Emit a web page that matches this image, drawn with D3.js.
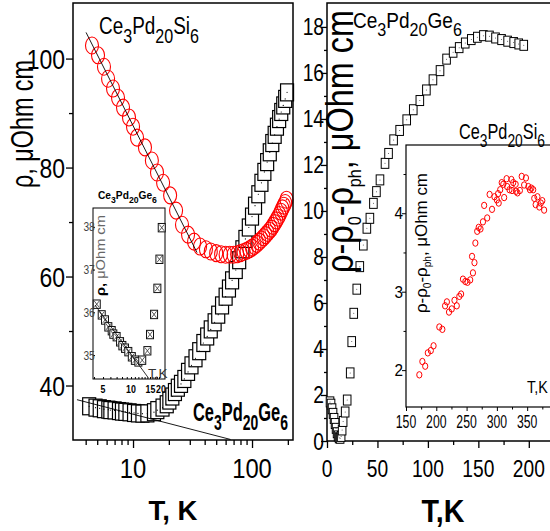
<!DOCTYPE html>
<html>
<head>
<meta charset="utf-8">
<script src="https://cdnjs.cloudflare.com/ajax/libs/d3/7.8.5/d3.min.js"></script>
<style>
  body { margin: 0; background: #fff; }
  svg { display: block; }
  text { font-family: "Liberation Sans", Arial, sans-serif; }
</style>
</head>
<body>
<script>
// Ce3Pd20Si6: rho(T), left panel (circles)
const siT = [4.52, 5.08, 5.7, 6.17, 6.79, 7.48, 8.24, 9.25, 10.0, 10.8, 12.6, 14.4, 15.9, 17.9, 20.5, 23, 25.8, 29, 32.6, 36.6, 41, 45, 50, 55,
  60, 65, 70, 75, 80, 85, 90, 95, 100, 105, 110, 115, 120, 125, 130, 135, 140, 145, 150, 155, 160, 165, 170, 175, 180, 185, 190, 195];
const siRho = [102.4, 100.6, 98.5, 96.3, 94.5, 92.8, 91.0, 89.2, 87.5, 85.5, 83.7, 81.3, 79.1, 77.2, 74.9, 72.1, 69.5, 67.7, 66.4, 65.5, 65.0, 64.6, 64.3, 64.1,
  64.0, 64.0, 64.0, 64.1, 64.3, 64.5, 64.7, 65.0, 65.3, 65.6, 66.0, 66.4, 66.8, 67.2, 67.6, 68.0, 68.4, 68.8, 69.3, 69.8, 70.3, 70.8, 71.3, 71.9, 72.5, 73.0, 73.5, 74.1];

// Ce3Pd20Ge6: rho(T), left panel (squares) and its inset
const geT = [4.28, 4.84, 5.25, 5.7, 6.2, 6.45, 7.0, 7.62, 8.07, 8.62, 9.35, 10.2, 11.0, 12.0, 13.2, 15.0, 16.0, 17.7, 19.2, 20.2, 21.4,
  22.5, 23.8, 25.3, 27, 29, 31, 33.5, 36, 39, 42, 45, 48.5, 52, 56, 60, 64, 68, 73, 78, 83, 88, 94, 100, 106, 113, 120, 127, 134, 141, 148, 155, 162, 169, 176, 183, 190, 197];
const geRho = [36.19, 35.94, 35.82, 35.66, 35.57, 35.49, 35.43, 35.31, 35.22, 35.16, 35.08, 34.96, 34.88, 34.84, 34.88, 35.10, 35.48, 35.95, 36.56, 37.24, 37.98,
  38.8, 39.6, 40.3, 41.2, 42.5, 43.7, 45.0, 46.3, 47.8, 49.0, 50.3, 51.6, 53.0, 54.7, 56.3, 57.8, 59.3, 61.2, 63.0, 65.0, 66.9, 69.0, 71.0, 73.0, 75.1, 77.2, 79.2, 81.0, 82.8, 84.5, 86.0, 87.5, 88.9, 90.2, 91.4, 92.6, 93.8];

// straight lines (-ln T) drawn in the left panel and inset: [T start, T end], [rho start, rho end]
const siFitT = [4.03, 34.5], siFitRho = [104.8, 64.4];
const geFitT = [3.38, 66], geFitRho = [37.4, 30.1];
const geInsetFitT = [4.1, 15.2], geInsetFitRho = [36.17, 34.48];

// Ce3Pd20Ge6: rho - rho0 - rho_ph, right panel
const geMagT = [3, 4, 5, 6, 7, 8, 9, 10, 11, 12, 13, 14, 15, 16, 18, 20, 23, 24.5, 26.5, 29.5, 32.5, 36, 39.5, 42.5,
  46, 49, 52.5, 57.5, 61, 66, 72, 79, 85.5, 92, 98.5, 105, 112, 118.5, 125, 131, 137, 143, 149, 155, 161, 167, 173, 179, 185, 190, 195];
const geMagV = [1.7, 1.6, 1.4, 1.2, 0.98, 0.76, 0.55, 0.36, 0.22, 0.14, 0.12, 0.2, 0.48, 0.85, 1.26, 1.78, 2.96, 4.32, 5.55, 6.6, 7.58, 8.52, 9.25, 9.68,
  10.33, 10.84, 11.35, 12.07, 12.5, 13.09, 13.5, 13.96, 14.4, 14.8, 15.26, 15.7, 16.1, 16.6, 16.9, 17.1, 17.3, 17.45, 17.55, 17.62, 17.6, 17.52, 17.45, 17.38, 17.32, 17.26, 17.2];

// Ce3Pd20Si6: rho - rho0 - rho_ph, right inset
const siMagT = [172, 177, 181.7, 186, 191, 195.5, 205, 210, 214.5, 217.5, 221, 225.5, 230, 233.8, 238, 241, 244, 248, 251.5, 256, 259, 260.5, 263, 264.5,
  267.5, 270, 273, 277, 279, 284, 288, 292, 296, 300, 302, 303, 305.5, 308, 310.6, 312, 316, 317, 320.8, 324, 325, 327, 331, 331.5, 334, 338, 341,
  345, 348, 352, 354.6, 357, 360, 361.7, 364, 367, 370, 372.5, 375, 378];
const siMagV = [1.94, 2.11, 2.05, 2.22, 2.25, 2.31, 2.55, 2.52, 2.82, 2.87, 2.74, 2.78, 2.89, 2.82, 2.94, 2.97, 3.16, 3.13, 3.12, 3.15, 3.45, 3.24, 3.37, 3.62,
  3.77, 3.82, 3.80, 3.89, 4.10, 3.94, 4.24, 4.05, 4.21, 4.17, 4.25, 4.13, 4.30, 4.39, 4.37, 4.20, 4.44, 4.34, 4.30, 4.43, 4.29, 4.39, 4.37, 4.28, 4.26, 4.29, 4.47,
  4.36, 4.45, 4.34, 4.30, 4.32, 4.30, 4.19, 4.11, 4.21, 4.08, 4.13, 4.16, 4.04];

// ticks
const leftYTicks = [40, 60, 80, 100], leftYMinor = [50, 70, 90];
const leftXTicks = [10, 100], leftXMinor = [4, 5, 6, 7, 8, 9, 20, 30, 40, 50, 60, 70, 80, 90, 200];
const insetYTicks = [35, 36, 37, 38];
const insetXTicks = [5, 10, 15, 20], insetXMinor = [4, 5, 6, 7, 8, 9, 10, 11, 12, 13, 14, 15, 16, 17, 18, 19, 20];
const rightXTicks = [0, 50, 100, 150, 200], rightXMinor = [25, 75, 125, 175];
const rightYTicks = [0, 2, 4, 6, 8, 10, 12, 14, 16, 18], rightYMinor = [1, 3, 5, 7, 9, 11, 13, 15, 17];
const siXTicks = [150, 200, 250, 300, 350], siXMinor = [175, 225, 275, 325, 375];
const siYTicks = [2, 3, 4], siYMinor = [2.5, 3.5, 4.5];

const svg = d3.select("body").append("svg").attr("width", 550).attr("height", 531);

// text with sub-scripts, squeezed to a width (len) or by a factor (sx)
function label(parent, o) {
  const outer = parent.append("g").attr("transform", `translate(${o.x},${o.y})` + (o.rot ? " rotate(-90)" : ""));
  const inner = outer.append("g");
  const t = inner.append("text").attr("font-size", o.size).attr("font-weight", o.bold ? "bold" : "normal").attr("fill", o.fill || "#000");
  const sub = o.sub || [0.85, 0.38];
  let cur = 0;
  o.parts.forEach(([s, isSub, fill, bold]) => {
    const off = isSub ? o.size * sub[1] : 0;
    const ts = t.append("tspan").text(s).attr("dy", off - cur).attr("font-size", isSub ? o.size * sub[0] : o.size);
    if (fill) ts.attr("fill", fill);
    if (bold !== undefined) ts.attr("font-weight", bold ? "bold" : "normal");
    cur = off;
  });
  const b = t.node().getBBox();
  const k = o.len ? o.len / b.width : o.sx || 1;
  const f = { start: 0, middle: 0.5, end: 1 }[o.anchor || "start"];
  inner.attr("transform", `translate(${-(b.x + b.width * f) * k},0) scale(${k},1)`);
}
const formula = (el) => [["Ce", 0], ["3", 1], ["Pd", 0], ["20", 1], [el, 0], ["6", 1]];
const magLabel = [["ρ-ρ", 0], ["0", 1], ["-ρ", 0], ["ph", 1], [", μOhm cm", 0]];

function tickMarks(g, axis, size, width) {
  g.call(axis.tickSize(size).tickFormat(""));
  g.select(".domain").remove();
  g.selectAll(".tick line").attr("stroke", "#000").attr("stroke-width", width || 1.3);
}
const line = (xs, ys, sx, sy) => `M${sx(xs[0])},${sy(ys[0])}L${sx(xs[1])},${sy(ys[1])}`;

// ---------- left panel ----------
const xL = d3.scaleLog().domain([3.13, 221]).range([73, 293]);
const yL = d3.scaleLinear().domain([30, 110.2]).range([440, 3]);
const left = svg.append("g");

const geData = geT.map((t, i) => ({ t, v: geRho[i] }));
const siData = siT.map((t, i) => ({ t, v: siRho[i] }));

left.selectAll("rect.ge").data(geData).enter().append("rect").attr("class", "ge")
  .attr("x", (d) => xL(d.t) - 6.5).attr("y", (d) => yL(d.v) - 8.5)
  .attr("width", 13).attr("height", 17)
  .attr("fill", "#fff").attr("stroke", "#000").attr("stroke-width", 1.2);
left.selectAll("circle.gedot").data(geData).enter().append("circle").attr("class", "gedot")
  .attr("cx", (d) => xL(d.t)).attr("cy", (d) => yL(d.v)).attr("r", 0.6).attr("fill", "#000");

left.selectAll("ellipse.si").data(siData).enter().append("ellipse").attr("class", "si")
  .attr("cx", (d) => xL(d.t)).attr("cy", (d) => yL(d.v)).attr("rx", 6.5).attr("ry", 8.5)
  .attr("fill", "none").attr("stroke", "#ff0000").attr("stroke-width", 1.1);
left.append("circle").attr("cx", xL(siT[siT.length - 1])).attr("cy", yL(siRho[siRho.length - 1])).attr("r", 0.8).attr("fill", "#ff0000");

left.append("path").attr("d", line(siFitT, siFitRho, xL, yL)).attr("stroke", "#000").attr("stroke-width", 0.9).attr("fill", "none");
left.append("path").attr("d", line(geFitT, geFitRho, xL, yL)).attr("stroke", "#000").attr("stroke-width", 0.9).attr("fill", "none");

left.append("rect").attr("x", 73).attr("y", 3).attr("width", 220).attr("height", 437)
  .attr("fill", "none").attr("stroke", "#000").attr("stroke-width", 1.5);

tickMarks(left.append("g").attr("transform", "translate(73,0)"), d3.axisLeft(yL).tickValues(leftYTicks), 7);
tickMarks(left.append("g").attr("transform", "translate(73,0)"), d3.axisLeft(yL).tickValues(leftYMinor), 4);
tickMarks(left.append("g").attr("transform", "translate(0,440)"), d3.axisBottom(xL).tickValues(leftXTicks), 8);
tickMarks(left.append("g").attr("transform", "translate(0,440)"), d3.axisBottom(xL).tickValues(leftXMinor), 5);

leftYTicks.forEach((v) => label(left, { x: 65, y: yL(v) + 10, parts: [[String(v), 0]], size: 28, sx: 0.82, anchor: "end" }));
leftXTicks.forEach((v) => label(left, { x: xL(v), y: 478, parts: [[String(v), 0]], size: 28, sx: 0.85, anchor: "middle" }));
label(left, { x: 173, y: 520, parts: [["T, K", 0]], size: 28, bold: true, len: 49, anchor: "middle" });
// y title of the left panel, rotated
left.append("text").attr("transform", "translate(33,188) rotate(-90)")
  .attr("font-size", 32).attr("fill", "#000")
  .attr("textLength", 128).attr("lengthAdjust", "spacingAndGlyphs")
  .text("ρ, μOhm cm");
label(left, { x: 99, y: 34, parts: formula("Si"), size: 24, len: 100 });
label(left, { x: 193, y: 421, parts: formula("Ge"), size: 26, bold: true, len: 95, sub: [0.85, 0.34] });

// ---------- left inset ----------
const xI = d3.scaleLog().domain([3.9, 23.2]).range([93, 165]);
const yI = d3.scaleLinear().domain([34.44, 38.44]).range([379, 208]);
const inset = svg.append("g");
inset.append("rect").attr("x", 93).attr("y", 208).attr("width", 72).attr("height", 171)
  .attr("fill", "#fff").attr("stroke", "#000").attr("stroke-width", 1);
const insetData = geData.filter((d) => d.t <= 23.2 && d.v <= 38.44);
const cross = inset.selectAll("g.pt").data(insetData).enter().append("g").attr("class", "pt")
  .attr("transform", (d) => `translate(${xI(d.t)},${yI(d.v)})`);
cross.append("rect").attr("x", -3.5).attr("y", -4.2).attr("width", 7).attr("height", 8.4)
  .attr("fill", "#fff").attr("stroke", "#111").attr("stroke-width", 1);
cross.append("path").attr("d", "M-2.5,-3.2L2.5,3.2M2.5,-3.2L-2.5,3.2").attr("stroke", "#333").attr("stroke-width", 0.8);
inset.append("path").attr("d", line(geInsetFitT, geInsetFitRho, xI, yI)).attr("stroke", "#000").attr("stroke-width", 0.8);
tickMarks(inset.append("g").attr("transform", "translate(0,379)"), d3.axisBottom(xI).tickValues(insetXMinor), -2, 1);
tickMarks(inset.append("g").attr("transform", "translate(93,0)"), d3.axisLeft(yI).tickValues(insetYTicks), -2, 1);
insetYTicks.forEach((v) => label(inset, { x: 95, y: yI(v) + 4.5, parts: [[String(v), 0]], size: 12, sx: 0.85, anchor: "end", fill: "#444" }));
insetXTicks.forEach((v) => label(inset, { x: xI(v) + (v === 15 ? 3 : v === 20 ? 2 : 0), y: 393, parts: [[String(v), 0]], size: 11, sx: 0.8, bold: true, anchor: "middle" }));
label(inset, { x: 148, y: 378, parts: [["T,K", 0]], size: 13, len: 20, fill: "#333" });
label(inset, { x: 105, y: 296, rot: true, parts: [["ρ, ", 0, "#000", true], ["μOhm cm", 0, "#666"]], size: 13, len: 81 });
label(inset, { x: 98, y: 199, parts: formula("Ge"), size: 11, bold: true, len: 59, sub: [0.85, 0.4] });

// ---------- right panel ----------
const xR = d3.scaleLinear().domain([0, 222]).range([327, 551]);
const yR = d3.scaleLinear().domain([0, 19.04]).range([441, 3]);
const right = svg.append("g");
right.append("rect").attr("x", 327).attr("y", 3).attr("width", 240).attr("height", 438)
  .attr("fill", "none").attr("stroke", "#000").attr("stroke-width", 1.5);

const magData = geMagT.map((t, i) => ({ t, v: geMagV[i] }));
right.selectAll("rect.mag").data(magData).enter().append("rect").attr("class", "mag")
  .attr("x", (d) => xR(d.t) - 3.8).attr("y", (d) => yR(d.v) - 5)
  .attr("width", 7.6).attr("height", 10)
  .attr("fill", "#fff").attr("stroke", "#000").attr("stroke-width", 1);
right.selectAll("circle.magdot").data(magData).enter().append("circle").attr("class", "magdot")
  .attr("cx", (d) => xR(d.t)).attr("cy", (d) => yR(d.v)).attr("r", 0.5).attr("fill", "#444");

tickMarks(right.append("g").attr("transform", "translate(327,0)"), d3.axisLeft(yR).tickValues(rightYTicks), 6);
tickMarks(right.append("g").attr("transform", "translate(327,0)"), d3.axisLeft(yR).tickValues(rightYMinor), 3);
tickMarks(right.append("g").attr("transform", "translate(0,441)"), d3.axisBottom(xR).tickValues(rightXTicks), 7);
tickMarks(right.append("g").attr("transform", "translate(0,441)"), d3.axisBottom(xR).tickValues(rightXMinor), 4);

rightYTicks.forEach((v) => label(right, { x: 324, y: yR(v) + 8.5, parts: [[String(v), 0]], size: 24, sx: 0.8, anchor: "end" }));
rightXTicks.forEach((v) => label(right, { x: xR(v), y: 477, parts: [[String(v), 0]], size: 24, sx: 0.8, anchor: "middle" }));
label(right, { x: 443, y: 522, parts: [["T,K", 0]], size: 32, bold: true, len: 43, anchor: "middle" });
label(right, { x: 353, y: 273, rot: true, size: 38, len: 263, sub: [0.5, 0.2], parts: magLabel });
label(right, { x: 353, y: 28, parts: formula("Ge"), size: 22, len: 109 });

// ---------- right inset ----------
const xS = d3.scaleLinear().domain([150, 390]).range([406, 551.4]);
const yS = d3.scaleLinear().domain([1.53, 4.87]).range([407, 145]);
const inset2 = svg.append("g");
inset2.append("rect").attr("x", 406).attr("y", 145).attr("width", 160).attr("height", 262)
  .attr("fill", "#fff").attr("stroke", "#000").attr("stroke-width", 1.2);
inset2.selectAll("ellipse").data(siMagT.map((t, i) => ({ t, v: siMagV[i] }))).enter().append("ellipse")
  .attr("cx", (d) => xS(d.t)).attr("cy", (d) => yS(d.v)).attr("rx", 2.6).attr("ry", 3.2)
  .attr("fill", "none").attr("stroke", "#ff0000").attr("stroke-width", 1);
tickMarks(inset2.append("g").attr("transform", "translate(0,407)"), d3.axisBottom(xS).tickValues(siXTicks), 4, 1);
tickMarks(inset2.append("g").attr("transform", "translate(0,407)"), d3.axisBottom(xS).tickValues(siXMinor), 2.5, 1);
tickMarks(inset2.append("g").attr("transform", "translate(406,0)"), d3.axisLeft(yS).tickValues(siYTicks), 4, 1);
tickMarks(inset2.append("g").attr("transform", "translate(406,0)"), d3.axisLeft(yS).tickValues(siYMinor), 2.5, 1);
siXTicks.forEach((v) => label(inset2, { x: xS(v), y: 428, parts: [[String(v), 0]], size: 18, sx: 0.68, anchor: "middle" }));
siYTicks.forEach((v) => label(inset2, { x: 403, y: yS(v) + 6, parts: [[String(v), 0]], size: 17, sx: 0.9, anchor: "end" }));
label(inset2, { x: 527, y: 393, parts: [["T,K", 0]], size: 16, len: 21 });
label(inset2, { x: 427, y: 313, rot: true, size: 17, len: 140, sub: [0.6, 0.25], parts: magLabel });
label(inset2, { x: 459, y: 139, parts: formula("Si"), size: 22, len: 86 });
</script>
</body>
</html>
